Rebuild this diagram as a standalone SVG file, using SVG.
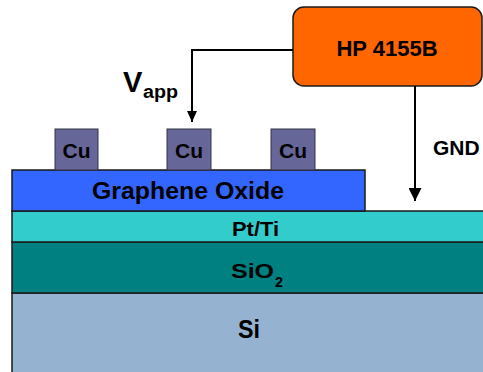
<svg xmlns="http://www.w3.org/2000/svg" width="483" height="372" viewBox="0 0 483 372">
<style>
text{font-family:"Liberation Sans",Arial,sans-serif;font-weight:bold;fill:#000}
.layer{stroke:#1a1a1a;stroke-width:1.5}
.cu{fill:#666699;stroke:#333344;stroke-width:1}
.cut{font-size:21px;text-anchor:middle}
.wire{fill:none;stroke:#000;stroke-width:2}
</style>
<defs>
<marker id="ah1" markerUnits="userSpaceOnUse" markerWidth="10" markerHeight="11" refX="5" refY="11" orient="0" viewBox="0 0 10 11">
<path d="M0,0 L10,0 L5,11 z" fill="#000"/>
</marker>
<marker id="ah2" markerUnits="userSpaceOnUse" markerWidth="13" markerHeight="13" refX="6.5" refY="13" orient="0" viewBox="0 0 13 13">
<path d="M0,0 L13,0 L6.5,13 z" fill="#000"/>
</marker>
</defs>
<rect width="483" height="372" fill="#fff"/>
<g id="si">
<rect class="layer" x="12" y="293" width="480" height="90" fill="#95B3D1"/>
<text x="238" y="338" font-size="25" textLength="22" lengthAdjust="spacingAndGlyphs">Si</text>
</g>
<g id="sio2">
<rect class="layer" x="12" y="242" width="480" height="51" fill="#008080"/>
<text x="231" y="278" font-size="21" textLength="43" lengthAdjust="spacingAndGlyphs">SiO</text>
<text x="275" y="287" font-size="14" textLength="8" lengthAdjust="spacingAndGlyphs">2</text>
</g>
<g id="ptti">
<rect class="layer" x="12" y="211" width="480" height="31" fill="#33CCCC"/>
<text x="232" y="236" font-size="20" textLength="47" lengthAdjust="spacingAndGlyphs">Pt/Ti</text>
</g>
<g id="graphene">
<rect class="layer" x="12" y="170" width="353" height="41" fill="#3366FF"/>
<text x="92" y="199" font-size="23" textLength="192" lengthAdjust="spacingAndGlyphs">Graphene Oxide</text>
</g>
<g id="cu1">
<rect class="cu" x="55" y="129" width="43" height="41"/>
<text class="cut" x="76.5" y="158">Cu</text>
</g>
<g id="cu2">
<rect class="cu" x="167" y="129" width="44" height="41"/>
<text class="cut" x="189" y="158">Cu</text>
</g>
<g id="cu3">
<rect class="cu" x="271" y="129" width="44" height="41"/>
<text class="cut" x="293" y="158">Cu</text>
</g>
<g id="hp">
<rect x="293" y="7" width="189" height="79" rx="11" fill="#FF6600" stroke="#1a1a1a" stroke-width="1.5"/>
<text x="387" y="56" font-size="22" text-anchor="middle">HP 4155B</text>
</g>
<g id="connectors">
<polyline class="wire" points="293,50 192,50 192,122" marker-end="url(#ah1)"/>
<line class="wire" x1="415" y1="86" x2="415" y2="201" marker-end="url(#ah2)"/>
</g>
<g id="labels">
<text x="123" y="92" font-size="29">V</text>
<text x="143" y="98" font-size="18" textLength="35" lengthAdjust="spacingAndGlyphs">app</text>
<text x="433" y="155" font-size="21">GND</text>
</g>
</svg>
